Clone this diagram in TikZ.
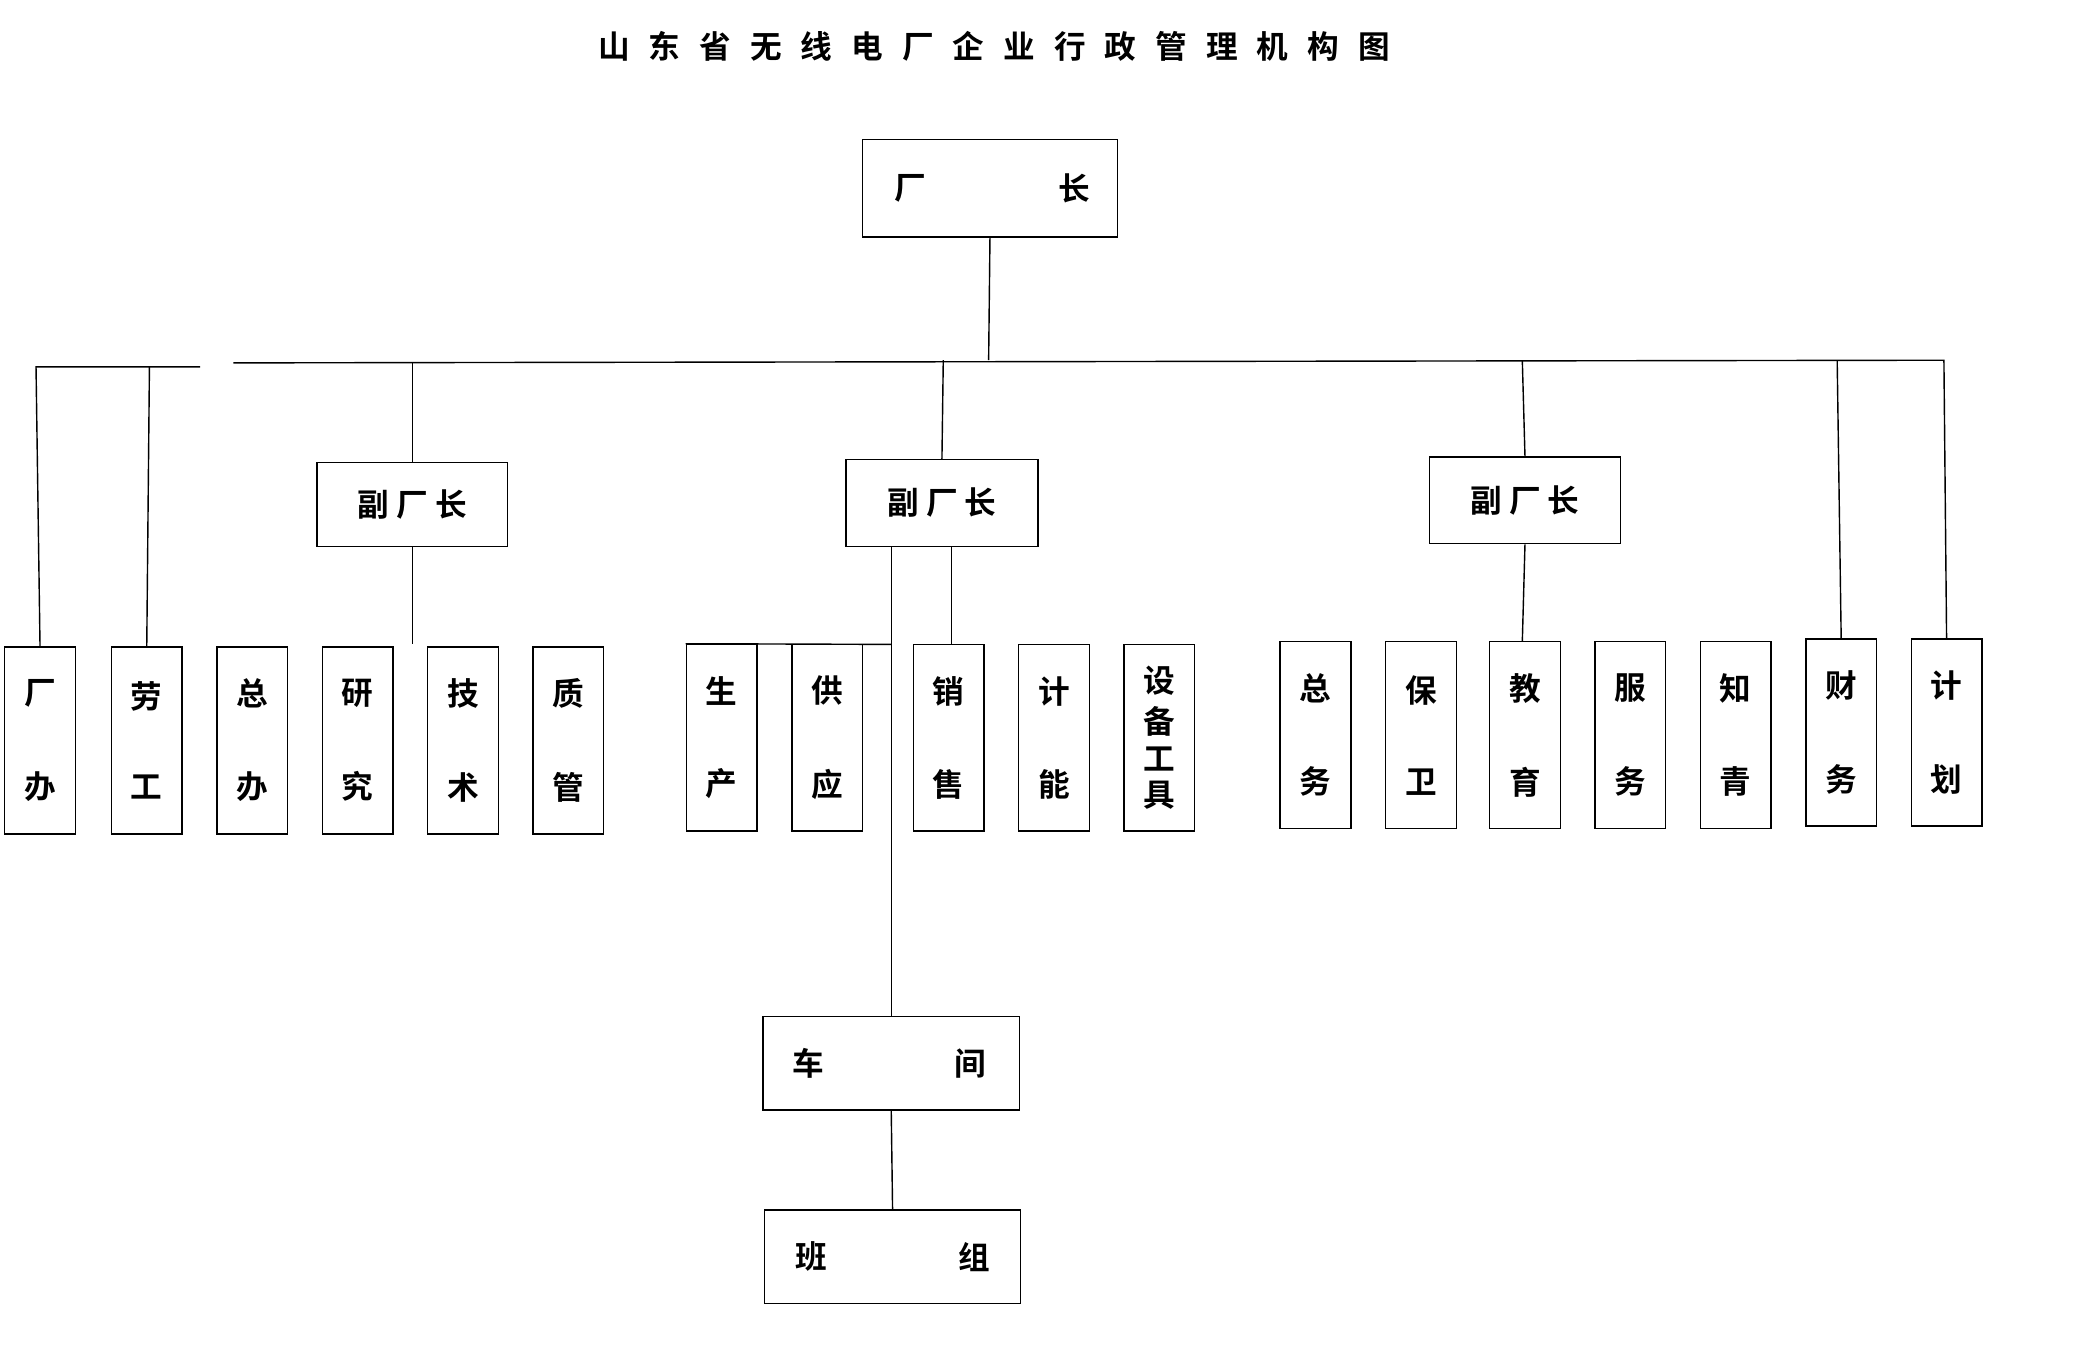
\documentclass[tikz,border=0pt]{standalone}
\usepackage{fontspec}
\setmainfont{Noto Sans CJK SC}[BoldFont={Noto Sans CJK SC Bold}]
\usetikzlibrary{positioning}
\tikzset{
 unit/.style={draw, thin, minimum width=53*0.01334cm, minimum height=140*0.01334cm, inner sep=0pt},
 head/.style={draw, thin, inner sep=0pt},
 txt/.style={font=\fontsize{9}{10}\selectfont\bfseries},
 link/.style={thin}
}
\newcommand{\vtwo}[2]{\shortstack{#1\\[5.3mm]#2}}
\newcommand{\tg}{\hspace{1.9mm}}
\begin{document}
\begin{tikzpicture}[x=0.01334cm, y=-0.01334cm]
\useasboundingbox (0,0) rectangle (1568,1020);
\node[txt] (title) at (745,35) {山\tg 东\tg 省\tg 无\tg 线\tg 电\tg 厂\tg 企\tg 业\tg 行\tg 政\tg 管\tg 理\tg 机\tg 构\tg 图};
% top
\node[head, minimum width=191*0.01334cm, minimum height=73*0.01334cm] (boss) at (742,141) {};
\node[txt] at (682,141) {厂}; \node[txt] at (805,141) {长};
% deputies
\node[head, txt, minimum width=143*0.01334cm, minimum height=63*0.01334cm] (vpa) at (309,378) {副\ 厂\ 长};
\node[head, txt, minimum width=144*0.01334cm, minimum height=65*0.01334cm] (vpb) at (706,377) {副\ 厂\ 长};
\node[head, txt, minimum width=143*0.01334cm, minimum height=65*0.01334cm] (vpc) at (1143,375) {副\ 厂\ 长};
% units
\foreach \n/\x/\y/\t in {ua/30/555/{厂}{办}, ub/110/555/{劳}{工}, uc/189/555/{总}{办}, ud/268/555/{研}{究}, ue/347/555/{技}{术}, uf/426/555/{质}{管},
 ug/541/553/{生}{产}, uh/620/553/{供}{应}, ui/711/553/{销}{售}, uj/790/553/{计}{能},
 uk/986/551/{总}{务}, ul/1065/551/{保}{卫}, um/1143/551/{教}{育}, un/1222/551/{服}{务}, uo/1301/551/{知}{青}, up/1380/549/{财}{务}, uq/1459/549/{计}{划}}
 \node[unit, txt] (\n) at (\x,\y) {\expandafter\vtwo\t};
\node[unit, txt] (ur) at (869,553) {\shortstack{设\\备\\工\\具}};
% workshop
\node[head, minimum width=192*0.01334cm, minimum height=70*0.01334cm] (shop) at (668,797) {};
\node[txt] at (606,797) {车}; \node[txt] at (727,797) {间};
\node[head, minimum width=192*0.01334cm, minimum height=70*0.01334cm] (team) at (669,942) {};
\node[txt] at (608,942) {班}; \node[txt] at (730,942) {组};
% connectors
\coordinate (bus) at (741,270);
\draw[link] (boss.south) -- (bus);
\draw[link] (ua.north) -- (27,275) -- (150,275);
\draw[link] (ub.north) -- (112,275);
\draw[link] (175,272) -- (1457,270) -- (uq.north);
\draw[link] (up.north) -- (1377,270);
\draw[link] (vpa.north) -- (309,272);
\draw[link] (vpb.north) -- (707,270);
\draw[link] (vpc.north) -- (1141,270);
\draw[link] (vpa.south) -- (309,483);
\draw[link] (vpc.south) -- (1141,481);
\draw[link] (668,410) -- (shop.north);
\draw[link] (713,410) -- (713,483);
\draw[link] (ug.north west) -- (668,483);
\draw[link] (shop.south) -- (team.north);
\end{tikzpicture}
\end{document}
